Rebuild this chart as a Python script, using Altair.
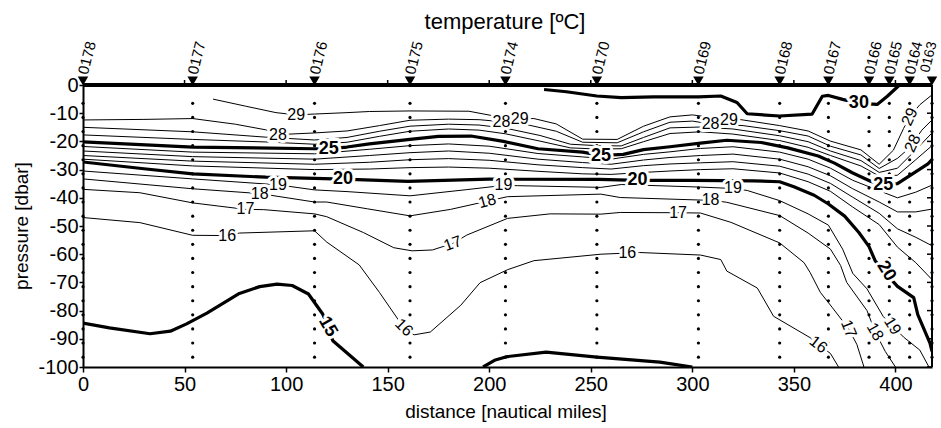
import altair as alt
import pandas as pd

FONT = "Liberation Sans"
W, H = 849, 282

# ---------------- stations ----------------
station_x = [0, 54, 114, 161, 208, 253, 303, 343, 367, 387, 397, 407, 418]
station_name = ["0178", "0177", "0176", "0175", "0174", "0170", "0169",
                "0168", "0167", "0166", "0165", "0164", "0163"]
dot_p = [-6.5, -11.5, -16.5, -21.5, -26.5, -31.5, -36.5, -41.5, -46.5, -51.5,
         -56.5, -61.5, -66.5, -71.5, -76.5, -81.5, -86.5, -91.5, -96.5]

x_ticks = [0, 50, 100, 150, 200, 250, 300, 350, 400]
y_ticks = [-100, -90, -80, -70, -60, -50, -40, -30, -20, -10, 0]

# ---------------- isotherms (distance [nm], pressure [dbar]) ----------------
c30_x = [227, 238, 253, 265, 281, 303, 314, 322, 327, 343, 359, 364, 367, 374, 382, 391, 396, 402]
c30_p = [-1.6, -2.4, -3.9, -4.5, -4.2, -4.2, -3.9, -6.2, -10.2, -11.0, -10.3, -4.0, -3.7, -5.1, -6.5, -6.9, -4.0, 0.0]

c29_x = [64, 80, 95, 105, 114, 130, 141, 161, 190, 204, 215, 222, 233, 246, 263, 276, 289, 300,
         318, 324, 343, 357, 368, 383, 392, 399, 404, 407, 412, 418]
c29_p = [-5.0, -7.5, -9.8, -10.6, -10.3, -9.8, -9.4, -9.2, -9.3, -11.2, -11.9, -11.9, -13.8, -19.2,
         -19.3, -14.6, -11.3, -10.6, -12.3, -12.3, -14.4, -16.3, -19.9, -23.0, -28.1, -23.1, -15.4,
         -11.3, -7.0, -3.5]

c28_x = [0, 30, 54, 75, 90, 96, 114, 130, 146, 161, 180, 195, 206, 220, 233, 246, 263, 276, 289,
         300, 309, 325, 343, 357, 368, 383, 392, 401, 405, 408.5, 413, 418]
c28_p = [-12.4, -12.2, -11.9, -13.9, -15.9, -17.6, -17.0, -16.3, -14.4, -12.5, -12.1, -12.3, -13.0,
         -14.3, -16.4, -20.3, -20.5, -16.6, -13.2, -12.8, -13.8, -14.4, -16.2, -18.1, -21.7, -24.8,
         -29.6, -26.0, -23.5, -20.7, -16.0, -12.4]

c27_x = [0, 54, 90, 114, 130, 146, 161, 180, 195, 208, 225, 240, 253, 265, 276, 289, 304, 320,
         343, 357, 368, 383, 392, 401, 410, 418]
c27_p = [-15.0, -16.6, -18.5, -19.5, -18.6, -16.4, -14.6, -13.9, -14.2, -15.3, -17.9, -21.0, -21.5,
         -21.6, -18.6, -15.2, -14.9, -15.6, -18.0, -20.1, -23.4, -26.8, -31.0, -29.5, -23.0, -17.0]

c26_x = [0, 54, 90, 114, 130, 146, 161, 180, 195, 208, 225, 240, 253, 265, 276, 289, 304, 320,
         343, 357, 368, 383, 392, 401, 410, 418]
c26_p = [-17.7, -19.3, -20.2, -21.0, -20.3, -18.2, -16.4, -15.6, -16.0, -17.3, -19.9, -22.3, -22.7,
         -22.6, -20.1, -17.2, -16.6, -17.4, -19.7, -22.1, -25.0, -28.7, -32.3, -32.0, -26.5, -21.5]

c25_x = [0, 54, 114, 121, 130, 141, 161, 175, 191, 207, 224, 246, 255, 266, 276, 289, 304, 317,
         334, 347, 362, 370, 379, 388, 394, 401, 416, 418]
c25_p = [-20.2, -22.0, -22.6, -22.6, -22.0, -20.9, -19.3, -18.2, -18.1, -20.0, -22.6, -23.8, -25.0,
         -24.6, -22.9, -21.9, -20.6, -19.6, -20.4, -22.3, -25.2, -27.7, -31.2, -34.2, -35.3, -35.0,
         -28.0, -26.5]

cmid_x = [0, 54, 114, 141, 161, 180, 200, 224, 246, 260, 276, 289, 304, 320, 343, 357, 368, 379,
          392, 401, 410, 418]
c24_p = [-21.8, -23.8, -24.4, -22.8, -21.5, -20.9, -21.7, -24.3, -25.5, -26.3, -24.6, -23.7, -22.5,
         -21.9, -23.8, -26.3, -29.5, -33.8, -37.5, -40.0, -38.0, -35.5]
c23_p = [-23.4, -25.4, -26.3, -25.0, -24.0, -23.4, -24.2, -26.3, -27.5, -28.1, -26.6, -25.7, -25.0,
         -24.5, -26.3, -29.0, -32.2, -36.8, -41.5, -45.0, -45.0, -44.0]
c22_p = [-25.0, -27.0, -28.1, -27.4, -26.5, -26.1, -26.7, -28.3, -29.3, -29.8, -28.6, -28.0, -27.6,
         -27.2, -28.8, -31.6, -34.9, -39.8, -45.5, -51.0, -54.0, -57.0]
c21_p = [-26.3, -28.7, -30.0, -29.8, -29.3, -29.1, -29.5, -30.6, -31.5, -31.7, -31.0, -30.5, -30.0,
         -29.7, -31.2, -34.3, -37.7, -43.3, -49.5, -57.5, -63.0, -69.0]

c20_x = [0, 30, 54, 90, 114, 128, 160, 200, 254, 273, 300, 330, 343, 350, 360, 367, 375, 382, 387,
         390, 396, 401, 409, 411, 417, 418]
c20_p = [-27.3, -29.7, -31.5, -32.7, -33.1, -33.4, -34.2, -33.4, -33.5, -33.8, -33.8, -34.0, -34.3,
         -36.1, -39.1, -42.2, -46.5, -52.3, -57.3, -62.3, -67.4, -71.4, -75.4, -81.4, -91.5, -94.5]

c19_x = [0, 54, 96, 114, 130, 161, 189, 207, 214, 255, 265, 304, 320, 327, 343, 357, 367, 374,
         379, 386, 394, 398.5, 404, 412, 416.5]
c19_p = [-30.5, -33.3, -35.4, -37.2, -37.8, -39.3, -37.1, -35.6, -35.7, -36.3, -35.3, -36.2, -36.7,
         -37.4, -41.0, -45.7, -49.7, -58.2, -66.8, -72.3, -82.1, -85.4, -89.4, -94.0, -100.0]

c18_x = [0, 54, 87, 114, 120, 140, 161, 181, 199, 209, 255, 264.5, 304, 309, 317, 343, 357, 368,
         373, 376, 386, 390, 395, 400]
c18_p = [-33.3, -36.8, -38.5, -41.5, -41.5, -43.9, -46.4, -44.1, -41.2, -39.6, -38.7, -39.9, -40.8,
         -40.8, -41.6, -46.3, -52.5, -58.2, -64.0, -70.0, -80.0, -87.5, -94.5, -100.0]

c17_x = [0, 28, 54, 80, 89, 114, 120, 138, 153, 162, 172, 182, 189, 209, 230, 255, 264.5, 293,
         304, 319, 343, 355, 358, 363, 369, 377, 381, 384.5]
c17_p = [-37.0, -38.2, -41.8, -44.1, -44.2, -45.7, -46.7, -52.3, -57.7, -58.8, -58.5, -56.2, -53.2,
         -47.3, -45.7, -45.8, -45.2, -45.3, -45.4, -48.7, -56.0, -63.0, -66.5, -73.5, -79.0, -86.5,
         -92.0, -100.0]

c16_x = [0, 28, 54, 71, 77, 114, 120, 136, 146, 155, 158, 163, 171, 186, 195.5, 209, 222, 255,
         268, 274, 304, 314, 317, 332, 340, 358, 362, 368, 372]
c16_p = [-47.0, -48.8, -53.3, -53.4, -52.5, -51.7, -55.7, -63.8, -73.6, -83.0, -86.0, -88.6, -87.6,
         -78.1, -70.1, -65.5, -62.3, -60.0, -59.6, -59.4, -60.3, -61.9, -66.0, -72.0, -82.0, -89.6,
         -92.0, -95.2, -100.0]

c15a_x = [0, 13, 33, 43, 51, 61, 77, 87, 95.5, 103, 111, 118, 120.5, 123, 138]
c15a_p = [-84.4, -86.1, -88.2, -87.3, -84.7, -80.9, -73.9, -71.5, -70.6, -71.1, -74.1, -81.2, -85.7,
          -90.7, -100.0]
c15b_x = [197, 203, 209, 228, 253, 284, 300]
c15b_p = [-100.0, -97.5, -96.3, -94.7, -96.5, -98.3, -100.0]

# ---------------- contour labels ----------------
lab_text = ["30", "29", "29", "29", "29", "28", "28", "28", "28", "25", "25", "25",
            "20", "20", "20", "19", "19", "19", "19", "18", "18", "18", "18",
            "17", "17", "17", "17", "16", "16", "16", "16", "15"]
lab_x = [382, 105, 215, 318, 407, 96, 206, 309, 408.5, 121, 255, 394,
         128, 273, 395.5, 96, 207, 320, 398.5, 87, 199, 309, 390,
         80, 182, 293, 377, 71, 158, 268, 362, 120.5]
lab_p = [-6.5, -10.6, -11.9, -12.3, -11.3, -17.6, -13.0, -13.8, -20.7, -22.6, -25.0, -35.3,
         -33.4, -33.8, -66.0, -35.4, -35.6, -36.7, -85.4, -38.5, -41.2, -40.8, -87.5,
         -44.1, -56.2, -45.3, -86.5, -53.4, -86.0, -59.6, -92.0, -85.7]
lab_angle = [0, 0, 0, 0, 295, 0, 0, 0, 295, 0, 0, 0,
             0, 0, 58, 0, 0, 0, 58, 0, 345, 0, 60,
             0, 340, 0, 68, 0, 45, 0, 38, 60]
lab_bold = [1, 0, 0, 0, 0, 0, 0, 0, 0, 1, 1, 1,
            1, 1, 1, 0, 0, 0, 0, 0, 0, 0, 0,
            0, 0, 0, 0, 0, 0, 0, 0, 1]

title_text = "temperature [ºC]"
xtitle_text = "distance [nautical miles]"
ytitle_text = "pressure [dbar]"

# ---------------- build tables ----------------
contour_defs = [
    ("c30", 30, c30_x, c30_p), ("c29", 29, c29_x, c29_p), ("c28", 28, c28_x, c28_p),
    ("c27", 27, c27_x, c27_p), ("c26", 26, c26_x, c26_p), ("c25", 25, c25_x, c25_p),
    ("c24", 24, cmid_x, c24_p), ("c23", 23, cmid_x, c23_p), ("c22", 22, cmid_x, c22_p),
    ("c21", 21, cmid_x, c21_p), ("c20", 20, c20_x, c20_p), ("c19", 19, c19_x, c19_p),
    ("c18", 18, c18_x, c18_p), ("c17", 17, c17_x, c17_p), ("c16", 16, c16_x, c16_p),
    ("c15a", 15, c15a_x, c15a_p), ("c15b", 15, c15b_x, c15b_p),
]
bold_levels = {15, 20, 25, 30}
rows = []
for name, lev, xs_, ps_ in contour_defs:
    for i, (xv, pv) in enumerate(zip(xs_, ps_)):
        rows.append({"seg": name, "level": lev, "i": i, "x": xv, "p": pv,
                     "w": 3.2 if lev in bold_levels else 1.0})
lines_df = pd.DataFrame(rows)

dots_df = pd.DataFrame([{"x": sx, "p": dp} for sx in station_x for dp in dot_p])
st_df = pd.DataFrame({"x": station_x, "name": station_name})
lab_df = pd.DataFrame({"x": lab_x, "p": lab_p, "t": lab_text, "a": lab_angle, "b": lab_bold})
yt_df = pd.DataFrame({"p": y_ticks})
xt_df = pd.DataFrame({"x": x_ticks[1:]})

# ---------------- encodings ----------------
x_axis = alt.Axis(values=x_ticks, title=None, labelFontSize=20, labelFont=FONT,
                  labelColor="black", tickColor="black", tickSize=5, tickWidth=1.5,
                  domainColor="black", domainWidth=2, labelPadding=2, grid=False,
                  labelFlush=False, labelOverlap=False)
y_axis = alt.Axis(values=y_ticks, title=None, labelFontSize=20, labelFont=FONT,
                  labelColor="black", tickColor="black", tickSize=4, tickWidth=1.5,
                  domainColor="black", domainWidth=2, labelPadding=1, grid=False,
                  labelFlush=False, labelOverlap=False,
                  labelExpr="datum.value < 0 ? '-' + (-datum.value) : '' + datum.value")
X = alt.X("x:Q", scale=alt.Scale(domain=[0, 418], nice=False, zero=False), axis=x_axis)
Y = alt.Y("p:Q", scale=alt.Scale(domain=[-100, 0], nice=False, zero=False), axis=y_axis)

lines = alt.Chart(lines_df).mark_line(color="black", clip=True, strokeJoin="round").encode(
    x=X, y=Y, detail="seg:N", order="i:Q",
    strokeWidth=alt.StrokeWidth("w:Q", scale=None))

dots = alt.Chart(dots_df).mark_circle(size=10, color="black", opacity=1).encode(x=X, y=Y)


def label_layer(bold, halo):
    size = 18 if bold else 16
    kw = dict(font=FONT, fontSize=size, fontWeight="bold" if bold else "normal",
              align="center", baseline="middle")
    if halo:
        kw.update(fill="white", stroke="white", strokeWidth=6, strokeJoin="round")
    else:
        kw.update(color="black")
    return alt.Chart(lab_df).transform_filter(
        f"datum.b == {1 if bold else 0}").mark_text(**kw).encode(
        x=X, y=Y, text="t:N", angle=alt.Angle("a:Q", scale=None))


tri = alt.Chart(st_df).mark_point(shape="triangle-down", filled=True, size=110,
                                  color="black", opacity=1).encode(x=X, y=alt.value(-4))
st_text = alt.Chart(st_df).transform_filter("datum.name != '0163'").mark_text(
    font=FONT, fontSize=15, angle=284, align="left", baseline="middle", color="black").encode(
    x=X, y=alt.value(-11), text="name:N")
st_text_last = alt.Chart(st_df).transform_filter("datum.name == '0163'").mark_text(
    font=FONT, fontSize=14, angle=284, align="left", baseline="bottom",
    color="black").encode(x=X, y=alt.value(-11), text="name:N")

top_line = alt.Chart(st_df).mark_rule(color="black", strokeWidth=3).encode(
    x=alt.value(0), x2=alt.value(W), y=alt.value(0))
right_line = alt.Chart(st_df).mark_rule(color="black", strokeWidth=2).encode(
    x=alt.value(W), y=alt.value(0), y2=alt.value(H))
top_ticks = alt.Chart(xt_df).mark_rule(color="black", strokeWidth=1.5).encode(
    x=X, y=alt.value(0), y2=alt.value(-5))
right_ticks = alt.Chart(yt_df).mark_rule(color="black", strokeWidth=1.5).encode(
    y=Y, x=alt.value(W), x2=alt.value(W - 5))

title = alt.Chart(pd.DataFrame({"t": [title_text]})).mark_text(
    font=FONT, fontSize=22, color="black", align="center", baseline="middle").encode(
    x=alt.value(422), y=alt.value(-63), text="t:N")
xtitle = alt.Chart(pd.DataFrame({"t": [xtitle_text]})).mark_text(
    font=FONT, fontSize=19, color="black", align="center", baseline="middle").encode(
    x=alt.value(423), y=alt.value(327), text="t:N")
ytitle = alt.Chart(pd.DataFrame({"t": [ytitle_text]})).mark_text(
    font=FONT, fontSize=19, color="black", align="center", baseline="middle",
    angle=270).encode(x=alt.value(-61), y=alt.value(141), text="t:N")

chart = alt.layer(
    lines, dots,
    label_layer(False, True), label_layer(True, True),
    label_layer(False, False), label_layer(True, False),
    top_line, right_line, top_ticks, right_ticks,
    tri, st_text, st_text_last, title, xtitle, ytitle,
).properties(
    width=W, height=H,
    padding={"left": 83, "top": 85, "right": 9, "bottom": 61},
    autosize=alt.AutoSizeParams(type="none"),
).configure_view(stroke=None).configure(background="white")

chart.save("out.html", embed_options={"renderer": "svg", "actions": False})
